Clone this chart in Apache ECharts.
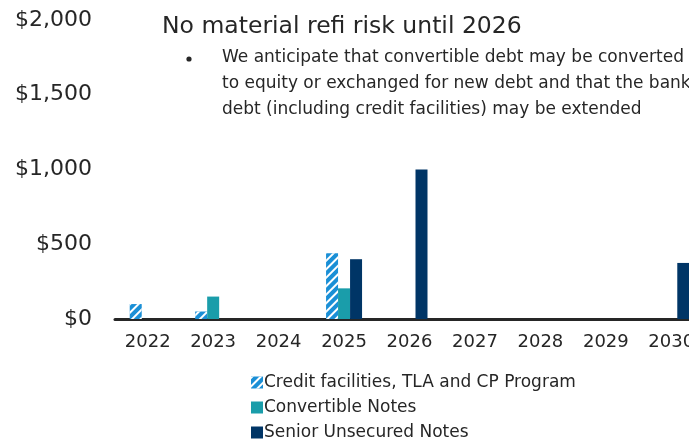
<!DOCTYPE html>
<html>
<head>
<meta charset="utf-8">
<script src="https://cdn.jsdelivr.net/npm/echarts@6/dist/echarts.min.js"></script>
<style>
  html, body { margin: 0; padding: 0; background: #fff; }
  #chart { width: 689px; height: 440px; }
</style>
</head>
<body>
<div id="chart"></div>
<script>
const categories = ['2022', '2023', '2024', '2025', '2026', '2027', '2028', '2029', '2030'];
const creditFacilities = [100, 50, 0, 440, 0, 0, 0, 0, 0];
const convertibleNotes = [0, 150, 0, 205, 0, 0, 0, 0, 0];
const seniorNotes = [0, 0, 0, 400, 1000, 0, 0, 0, 375];
const seriesNames = ['Credit facilities, TLA and CP Program', 'Convertible Notes', 'Senior Unsecured Notes'];
const titleText = 'No material refi risk until 2026';
const bulletLines = [
  'We anticipate that convertible debt may be converted',
  'to equity or exchanged for new debt and that the bank',
  'debt (including credit facilities) may be extended'
];

const FONT = 'DejaVu Sans';
const TEXT = '#262626';
const chart = echarts.init(document.getElementById('chart'));

const nz = arr => arr.map(v => (v === 0 ? null : v));

chart.setOption({
  animation: false,
  backgroundColor: '#ffffff',
  grid: { left: 115, top: 20, width: 589, height: 299, outerBoundsMode: 'none', containLabel: false },
  xAxis: {
    type: 'category',
    data: categories,
    axisLine: { lineStyle: { color: '#262626', width: 3 } },
    axisTick: { show: false },
    axisLabel: { color: TEXT, fontFamily: FONT, fontSize: 18, margin: 14 }
  },
  yAxis: {
    type: 'value',
    min: 0,
    max: 2000,
    interval: 500,
    axisLine: { show: false },
    axisTick: { show: false },
    splitLine: { show: false },
    axisLabel: {
      color: TEXT, fontFamily: FONT, fontSize: 22, margin: 23,
      formatter: v => '$' + v.toLocaleString('en-US')
    }
  },
  legend: {
    orient: 'vertical',
    left: 246,
    top: 369,
    height: 200,
    itemWidth: 12,
    itemHeight: 12,
    itemGap: 8,
    icon: 'rect',
    textStyle: { color: TEXT, fontFamily: FONT, fontSize: 17, padding: [0, 0, 0, -4] },
    data: seriesNames
  },
  series: [
    {
      name: seriesNames[0],
      type: 'bar',
      barWidth: 12,
      barGap: '0%',
      data: nz(creditFacilities),
      itemStyle: {
        color: '#1a8fd6',
        decal: {
          symbol: 'rect',
          color: '#ffffff',
          dashArrayX: [1, 0],
          dashArrayY: [2, 4],
          rotation: -Math.PI / 4,
          symbolSize: 1
        }
      }
    },
    {
      name: seriesNames[1],
      type: 'bar',
      barWidth: 12,
      barGap: '0%',
      data: nz(convertibleNotes),
      itemStyle: { color: '#1a9daa' }
    },
    {
      name: seriesNames[2],
      type: 'bar',
      barWidth: 12,
      barGap: '0%',
      data: nz(seniorNotes),
      itemStyle: { color: '#003566' }
    }
  ],
  graphic: [
    {
      type: 'text', left: 162, top: 15,
      style: { text: titleText, fill: TEXT, font: '23.5px "DejaVu Sans"' }
    },
    {
      type: 'circle', shape: { cx: 189, cy: 59, r: 2.6 },
      style: { fill: TEXT }
    },
    {
      type: 'text', left: 222, top: 45,
      style: { text: bulletLines.join('\n'), fill: TEXT, font: '17px "DejaVu Sans"', lineHeight: 26 }
    }
  ]
});
</script>
</body>
</html>
